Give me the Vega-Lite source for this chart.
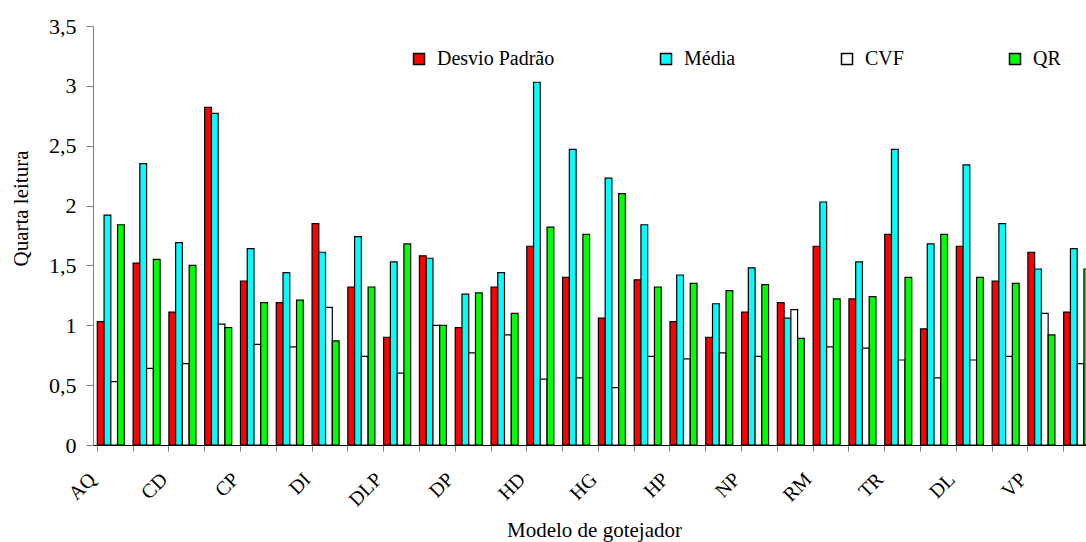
{
  "$schema": "https://vega.github.io/schema/vega-lite/v6.json",
  "autosize": "none",
  "padding": {"left": 93, "top": 26, "right": -9, "bottom": 97},
  "width": 1002,
  "height": 419,
  "background": "white",
  "config": {
    "view": {"stroke": null},
    "font": "Liberation Serif",
    "axis": {"labelFont": "Liberation Serif", "titleFont": "Liberation Serif", "labelColor": "black", "titleColor": "black", "titleFontWeight": "normal", "grid": false},
    "legend": {"labelFont": "Liberation Serif", "labelColor": "black"}
  },
  "data": {"values": [
    {"cat":"AQ","serie":"Desvio Padrão","valor":1.03},{"cat":"AQ","serie":"Média","valor":1.92},{"cat":"AQ","serie":"CVF","valor":0.53},{"cat":"AQ","serie":"QR","valor":1.84},
    {"cat":"AQ-2","serie":"Desvio Padrão","valor":1.52},{"cat":"AQ-2","serie":"Média","valor":2.35},{"cat":"AQ-2","serie":"CVF","valor":0.64},{"cat":"AQ-2","serie":"QR","valor":1.55},
    {"cat":"CD","serie":"Desvio Padrão","valor":1.11},{"cat":"CD","serie":"Média","valor":1.69},{"cat":"CD","serie":"CVF","valor":0.68},{"cat":"CD","serie":"QR","valor":1.50},
    {"cat":"CD-2","serie":"Desvio Padrão","valor":2.82},{"cat":"CD-2","serie":"Média","valor":2.77},{"cat":"CD-2","serie":"CVF","valor":1.01},{"cat":"CD-2","serie":"QR","valor":0.98},
    {"cat":"CP","serie":"Desvio Padrão","valor":1.37},{"cat":"CP","serie":"Média","valor":1.64},{"cat":"CP","serie":"CVF","valor":0.84},{"cat":"CP","serie":"QR","valor":1.19},
    {"cat":"CP-2","serie":"Desvio Padrão","valor":1.19},{"cat":"CP-2","serie":"Média","valor":1.44},{"cat":"CP-2","serie":"CVF","valor":0.82},{"cat":"CP-2","serie":"QR","valor":1.21},
    {"cat":"DI","serie":"Desvio Padrão","valor":1.85},{"cat":"DI","serie":"Média","valor":1.61},{"cat":"DI","serie":"CVF","valor":1.15},{"cat":"DI","serie":"QR","valor":0.87},
    {"cat":"DI-2","serie":"Desvio Padrão","valor":1.32},{"cat":"DI-2","serie":"Média","valor":1.74},{"cat":"DI-2","serie":"CVF","valor":0.74},{"cat":"DI-2","serie":"QR","valor":1.32},
    {"cat":"DLP","serie":"Desvio Padrão","valor":0.90},{"cat":"DLP","serie":"Média","valor":1.53},{"cat":"DLP","serie":"CVF","valor":0.60},{"cat":"DLP","serie":"QR","valor":1.68},
    {"cat":"DLP-2","serie":"Desvio Padrão","valor":1.58},{"cat":"DLP-2","serie":"Média","valor":1.56},{"cat":"DLP-2","serie":"CVF","valor":1.00},{"cat":"DLP-2","serie":"QR","valor":1.00},
    {"cat":"DP","serie":"Desvio Padrão","valor":0.98},{"cat":"DP","serie":"Média","valor":1.26},{"cat":"DP","serie":"CVF","valor":0.77},{"cat":"DP","serie":"QR","valor":1.27},
    {"cat":"DP-2","serie":"Desvio Padrão","valor":1.32},{"cat":"DP-2","serie":"Média","valor":1.44},{"cat":"DP-2","serie":"CVF","valor":0.92},{"cat":"DP-2","serie":"QR","valor":1.10},
    {"cat":"HD","serie":"Desvio Padrão","valor":1.66},{"cat":"HD","serie":"Média","valor":3.03},{"cat":"HD","serie":"CVF","valor":0.55},{"cat":"HD","serie":"QR","valor":1.82},
    {"cat":"HD-2","serie":"Desvio Padrão","valor":1.40},{"cat":"HD-2","serie":"Média","valor":2.47},{"cat":"HD-2","serie":"CVF","valor":0.56},{"cat":"HD-2","serie":"QR","valor":1.76},
    {"cat":"HG","serie":"Desvio Padrão","valor":1.06},{"cat":"HG","serie":"Média","valor":2.23},{"cat":"HG","serie":"CVF","valor":0.48},{"cat":"HG","serie":"QR","valor":2.10},
    {"cat":"HG-2","serie":"Desvio Padrão","valor":1.38},{"cat":"HG-2","serie":"Média","valor":1.84},{"cat":"HG-2","serie":"CVF","valor":0.74},{"cat":"HG-2","serie":"QR","valor":1.32},
    {"cat":"HP","serie":"Desvio Padrão","valor":1.03},{"cat":"HP","serie":"Média","valor":1.42},{"cat":"HP","serie":"CVF","valor":0.72},{"cat":"HP","serie":"QR","valor":1.35},
    {"cat":"HP-2","serie":"Desvio Padrão","valor":0.90},{"cat":"HP-2","serie":"Média","valor":1.18},{"cat":"HP-2","serie":"CVF","valor":0.77},{"cat":"HP-2","serie":"QR","valor":1.29},
    {"cat":"NP","serie":"Desvio Padrão","valor":1.11},{"cat":"NP","serie":"Média","valor":1.48},{"cat":"NP","serie":"CVF","valor":0.74},{"cat":"NP","serie":"QR","valor":1.34},
    {"cat":"NP-2","serie":"Desvio Padrão","valor":1.19},{"cat":"NP-2","serie":"Média","valor":1.06},{"cat":"NP-2","serie":"CVF","valor":1.13},{"cat":"NP-2","serie":"QR","valor":0.89},
    {"cat":"RM","serie":"Desvio Padrão","valor":1.66},{"cat":"RM","serie":"Média","valor":2.03},{"cat":"RM","serie":"CVF","valor":0.82},{"cat":"RM","serie":"QR","valor":1.22},
    {"cat":"RM-2","serie":"Desvio Padrão","valor":1.22},{"cat":"RM-2","serie":"Média","valor":1.53},{"cat":"RM-2","serie":"CVF","valor":0.81},{"cat":"RM-2","serie":"QR","valor":1.24},
    {"cat":"TR","serie":"Desvio Padrão","valor":1.76},{"cat":"TR","serie":"Média","valor":2.47},{"cat":"TR","serie":"CVF","valor":0.71},{"cat":"TR","serie":"QR","valor":1.40},
    {"cat":"TR-2","serie":"Desvio Padrão","valor":0.97},{"cat":"TR-2","serie":"Média","valor":1.68},{"cat":"TR-2","serie":"CVF","valor":0.56},{"cat":"TR-2","serie":"QR","valor":1.76},
    {"cat":"DL","serie":"Desvio Padrão","valor":1.66},{"cat":"DL","serie":"Média","valor":2.34},{"cat":"DL","serie":"CVF","valor":0.71},{"cat":"DL","serie":"QR","valor":1.40},
    {"cat":"DL-2","serie":"Desvio Padrão","valor":1.37},{"cat":"DL-2","serie":"Média","valor":1.85},{"cat":"DL-2","serie":"CVF","valor":0.74},{"cat":"DL-2","serie":"QR","valor":1.35},
    {"cat":"VP","serie":"Desvio Padrão","valor":1.61},{"cat":"VP","serie":"Média","valor":1.47},{"cat":"VP","serie":"CVF","valor":1.10},{"cat":"VP","serie":"QR","valor":0.92},
    {"cat":"VP-2","serie":"Desvio Padrão","valor":1.11},{"cat":"VP-2","serie":"Média","valor":1.64},{"cat":"VP-2","serie":"CVF","valor":0.68},{"cat":"VP-2","serie":"QR","valor":1.47}
  ]},
  "mark": {"type": "bar", "stroke": "black", "strokeWidth": 1.2, "opacity": 1},
  "encoding": {
    "x": {
      "field": "cat", "type": "nominal", "sort": null,
      "scale": {"paddingInner": 0.245, "paddingOuter": 0.12},
      "axis": {
        "title": "Modelo de gotejador", "titleFontSize": 21, "titlePadding": 10,
        "labelAngle": -45, "labelFontSize": 20, "labelAlign": "right", "labelBaseline": "middle",
        "labelExpr": "indexof(datum.value, '-') >= 0 ? '' : datum.value",
        "bandPosition": 0, "labelPadding": 25, "labelOffset": -18,
        "domainColor": "black", "domainWidth": 1, "tickColor": "#808080", "tickSize": 6, "labelOverlap": false
      }
    },
    "xOffset": {"field": "serie", "type": "nominal", "sort": ["Desvio Padrão", "Média", "CVF", "QR"], "scale": {"paddingInner": 0, "paddingOuter": 0}},
    "y": {
      "field": "valor", "type": "quantitative",
      "scale": {"domain": [0, 3.5], "nice": false},
      "axis": {
        "title": "Quarta leitura", "titleFontSize": 21, "titleX": -62, "titleY": 182,
        "values": [0, 0.5, 1, 1.5, 2, 2.5, 3, 3.5], "format": "~g",
        "labelExpr": "replace(datum.label, '.', ',')", "labelFontSize": 22, "labelPadding": 10,
        "domainColor": "#808080", "tickColor": "#808080", "tickSize": 7
      }
    },
    "fill": {
      "field": "serie", "type": "nominal",
      "sort": ["Desvio Padrão", "Média", "CVF", "QR"],
      "scale": {"domain": ["Desvio Padrão", "Média", "CVF", "QR"], "range": ["#FF0000", "#00FFFF", "#FFFFFF", "#00FF00"]},
      "legend": {
        "title": null, "orient": "none", "legendX": 316, "legendY": 23, "direction": "horizontal",
        "symbolType": "square", "symbolSize": 121, "symbolStrokeColor": "black", "symbolStrokeWidth": 1.5, "symbolOpacity": 1,
        "labelFontSize": 20, "labelOffset": 8, "columnPadding": 101, "labelLimit": 300
      }
    }
  }
}
